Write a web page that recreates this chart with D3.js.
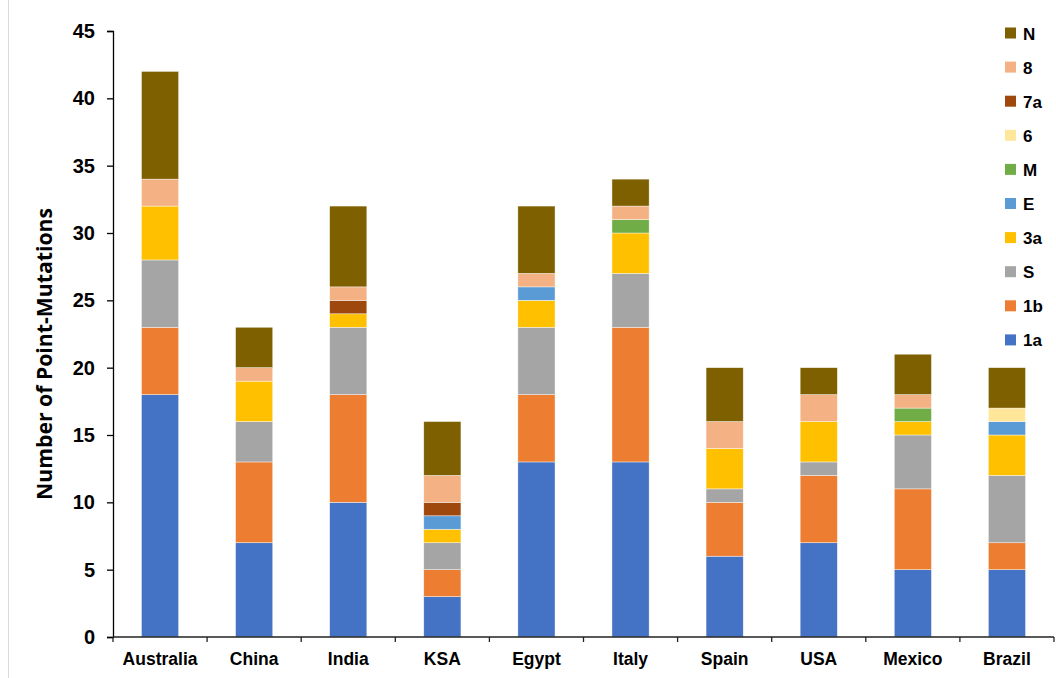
<!DOCTYPE html>
<html>
<head>
<meta charset="utf-8">
<script src="https://cdn.jsdelivr.net/npm/d3@7"></script>
<style>
  html, body { margin: 0; padding: 0; background: #fff; }
  svg { display: block; font-family: "Liberation Sans", Arial, sans-serif; }
</style>
</head>
<body>
<svg id="chart" width="1056" height="678"></svg>
<script>
// Countries along the x axis
const countries = ["Australia", "China", "India", "KSA", "Egypt", "Italy", "Spain", "USA", "Mexico", "Brazil"];

// Genes, stacked bottom to top
const genes = ["1a", "1b", "S", "3a", "E", "M", "6", "7a", "8", "N"];

// Point-mutation counts per gene, one value per country
const mut1a = [18, 7, 10, 3, 13, 13, 6, 7, 5, 5];
const mut1b = [5, 6, 8, 2, 5, 10, 4, 5, 6, 2];
const mutS  = [5, 3, 5, 2, 5, 4, 1, 1, 4, 5];
const mut3a = [4, 3, 1, 1, 2, 3, 3, 3, 1, 3];
const mutE  = [0, 0, 0, 1, 1, 0, 0, 0, 0, 1];
const mutM  = [0, 0, 0, 0, 0, 1, 0, 0, 1, 0];
const mut6  = [0, 0, 0, 0, 0, 0, 0, 0, 0, 1];
const mut7a = [0, 0, 1, 1, 0, 0, 0, 0, 0, 0];
const mut8  = [2, 1, 1, 2, 1, 1, 2, 2, 1, 0];
const mutN  = [8, 3, 6, 4, 5, 2, 4, 2, 3, 3];

const yTicks = [0, 5, 10, 15, 20, 25, 30, 35, 40, 45];

const geneColors = {
  "1a": "#4472C4", "1b": "#ED7D31", "S": "#A5A5A5", "3a": "#FFC000",
  "E": "#5B9BD5", "M": "#70AD47", "6": "#FFE699", "7a": "#9E480E",
  "8": "#F4B183", "N": "#7F6000"
};

const seriesByGene = {
  "1a": mut1a, "1b": mut1b, "S": mutS, "3a": mut3a, "E": mutE,
  "M": mutM, "6": mut6, "7a": mut7a, "8": mut8, "N": mutN
};

const rows = countries.map((c, i) => {
  const r = { country: c };
  genes.forEach(g => { r[g] = seriesByGene[g][i]; });
  return r;
});

const svg = d3.select("#chart");
const plotLeft = 113, plotRight = 1054, plotTop = 31, plotBottom = 637;

const x = d3.scaleBand().domain(countries).range([plotLeft, plotRight]).paddingInner(0.605).paddingOuter(0.3025);
const y = d3.scaleLinear().domain([0, 45]).range([plotBottom, plotTop]);

// faint frame edge on the left
svg.append("line").attr("x1", 8.5).attr("x2", 8.5).attr("y1", 0).attr("y2", 678)
  .attr("stroke", "#d9d9d9").attr("stroke-width", 1);

const stacked = d3.stack().keys(genes)(rows);

svg.append("g").selectAll("g").data(stacked).join("g")
  .attr("fill", d => geneColors[d.key])
  .selectAll("rect").data(d => d.filter(p => p[1] > p[0])).join("rect")
  .attr("x", d => x(d.data.country))
  .attr("width", x.bandwidth())
  .attr("y", d => y(d[1]))
  .attr("height", d => y(d[0]) - y(d[1]))
  .attr("stroke", "#ffffff").attr("stroke-width", 0.6).attr("stroke-opacity", 0.7);

// y axis
const yAxis = svg.append("g").attr("transform", `translate(${plotLeft},0)`)
  .call(d3.axisLeft(y).tickValues(yTicks).tickSize(6).tickPadding(12));
yAxis.select(".domain").attr("stroke", "#000").attr("stroke-width", 1.3);
yAxis.selectAll(".tick line").attr("stroke", "#000").attr("stroke-width", 1.3);
yAxis.selectAll(".tick text").attr("font-size", 20).attr("font-weight", "bold")
  .attr("fill", "#000").attr("font-family", "Liberation Sans, Arial, sans-serif");

// x axis with ticks at the category boundaries
const xAxisG = svg.append("g").attr("transform", `translate(0,${plotBottom})`);
xAxisG.append("line").attr("x1", plotLeft).attr("x2", plotRight).attr("y1", 0).attr("y2", 0)
  .attr("stroke", "#222").attr("stroke-width", 1.3);
const boundaries = countries.map(c => x(c) - x.step() * x.paddingInner() / 2)
  .concat([plotRight]);
xAxisG.selectAll("line.b").data(boundaries).join("line").attr("class", "b")
  .attr("x1", d => d).attr("x2", d => d).attr("y1", 0).attr("y2", 5)
  .attr("stroke", "#222").attr("stroke-width", 1.3);
xAxisG.selectAll("text").data(countries).join("text")
  .attr("x", d => x(d) + x.bandwidth() / 2)
  .attr("y", 27.5)
  .attr("text-anchor", "middle")
  .attr("font-size", 17.5).attr("font-weight", "bold").attr("fill", "#000")
  .text(d => d);

// y axis title
svg.append("text")
  .attr("transform", "translate(52,354) rotate(-90)")
  .attr("text-anchor", "middle")
  .attr("font-family", "'Open Sans', 'Noto Sans', sans-serif")
  .attr("font-size", 21).attr("font-weight", "bold").attr("fill", "#000")
  .attr("textLength", 292).attr("lengthAdjust", "spacingAndGlyphs")
  .text("Number of Point-Mutations");

// legend, top entry is the last stacked gene
const legendGenes = genes.slice().reverse();
const lg = svg.append("g").selectAll("g").data(legendGenes).join("g")
  .attr("transform", (d, i) => `translate(1005,${33 + i * 34.1})`);
lg.append("rect").attr("x", 0).attr("y", -5.5).attr("width", 11).attr("height", 11)
  .attr("fill", d => geneColors[d]);
lg.append("text").attr("x", 18).attr("y", 6.5).attr("font-size", 17).attr("font-weight", "bold")
  .attr("fill", "#000").text(d => d);
</script>
</body>
</html>
